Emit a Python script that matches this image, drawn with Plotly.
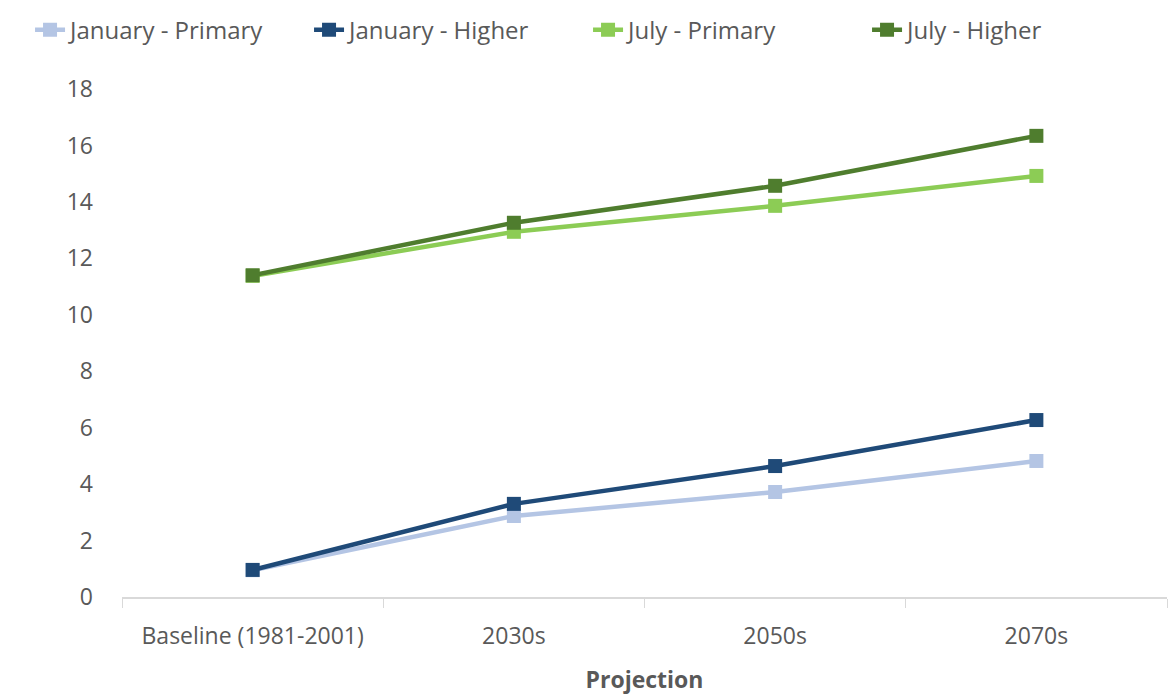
import plotly.graph_objects as go

# Projected temperatures by period and scenario
periods = ["Baseline (1981-2001)", "2030s", "2050s", "2070s"]
jan_primary = [0.95, 2.87, 3.72, 4.82]
jan_higher = [0.96, 3.30, 4.64, 6.27]
jul_primary = [11.38, 12.94, 13.86, 14.92]
jul_higher = [11.40, 13.26, 14.57, 16.34]

series = [
    ("January - Primary", jan_primary, "#b4c5e4"),
    ("January - Higher", jan_higher, "#1f4a78"),
    ("July - Primary", jul_primary, "#8ccc55"),
    ("July - Higher", jul_higher, "#4f7d2e"),
]

FONT = "Open Sans"
TXT = "#595959"

fig = go.Figure()
for name, vals, color in series:
    fig.add_trace(go.Scatter(
        x=periods, y=vals, name=name, mode="lines+markers",
        line=dict(color=color, width=4.5),
        marker=dict(symbol="square", size=14, color=color),
    ))

fig.update_layout(
    width=1173, height=695,
    margin=dict(l=122, r=6, t=89, b=98, autoexpand=False),
    paper_bgcolor="white", plot_bgcolor="white",
    font=dict(family=FONT, size=23, color=TXT),
    showlegend=True,
    legend=dict(
        orientation="h", x=-0.088, xanchor="left", y=1.116, yanchor="middle",
        font=dict(family=FONT, size=24, color=TXT),
        entrywidth=234, entrywidthmode="pixels",
        tracegroupgap=0,
    ),
    xaxis=dict(
        type="category", range=[-0.5, 3.5],
        showline=True, linecolor="#d9d9d9", linewidth=1.5,
        ticks="outside", tickson="boundaries", ticklen=9, tickcolor="#d9d9d9",
        showgrid=False, zeroline=False,
        tickfont=dict(family=FONT, size=23, color=TXT),
        ticklabelstandoff=18,
        title=dict(text="<b>Projection</b>", font=dict(family=FONT, size=23, color=TXT), standoff=24),
    ),
    yaxis=dict(
        range=[0, 18], dtick=2, showgrid=False, zeroline=False, showline=False,
        tickfont=dict(family=FONT, size=23, color=TXT),
        ticklabelstandoff=28,
    ),
)

fig.write_html("out.html")
